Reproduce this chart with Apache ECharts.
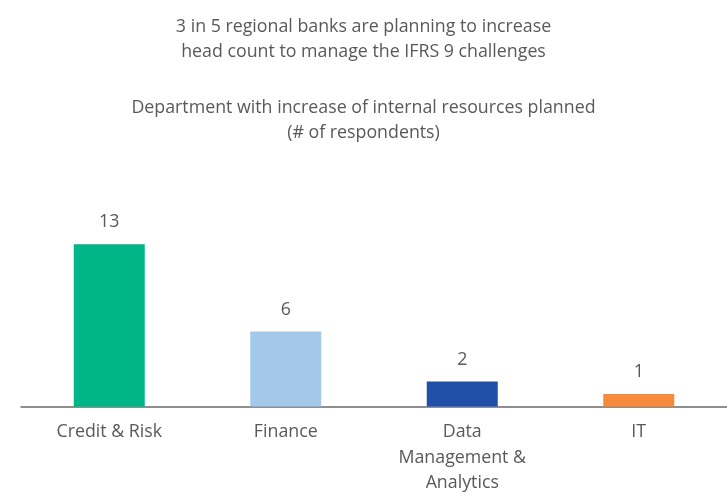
<!DOCTYPE html>
<html>
<head>
<meta charset="utf-8">
<script src="https://cdn.jsdelivr.net/npm/echarts@6/dist/echarts.min.js"></script>
<style>
  html, body { margin: 0; padding: 0; background: #fff; }
  #chart { width: 727px; height: 496px; }
</style>
</head>
<body>
<div id="chart"></div>
<script>
// data
var categories = ['Credit & Risk', 'Finance', 'Data\nManagement &\nAnalytics', 'IT'];
var counts = [13, 6, 2, 1];
var barColors = ['#00b686', '#a4c8ea', '#1f4fa6', '#f68b3d'];

var textColor = '#595959';
var fontFamily = 'Open Sans, Lato, sans-serif';
var fs = 17.8;

var chart = echarts.init(document.getElementById('chart'));

var option = {
  backgroundColor: '#fff',
  animation: false,
  title: [
    {
      text: '3 in 5 regional banks are planning to increase\nhead count to manage the IFRS 9 challenges',
      left: 'center',
      top: 9,
      textStyle: { color: textColor, fontSize: fs, fontWeight: 'normal', fontFamily: fontFamily, lineHeight: 25 }
    },
    {
      text: 'Department with increase of internal resources planned\n(# of respondents)',
      left: 'center',
      top: 90,
      textStyle: { color: textColor, fontSize: fs, fontWeight: 'normal', fontFamily: fontFamily, lineHeight: 25 }
    }
  ],
  grid: { left: 21, right: -1, top: 238, bottom: 80, containLabel: false },
  xAxis: {
    type: 'category',
    data: categories,
    axisTick: { show: false },
    axisLine: { lineStyle: { color: '#6b6b6b', width: 1.5 } },
    axisLabel: {
      color: textColor, fontSize: fs, fontFamily: fontFamily,
      margin: 13, lineHeight: 25.5, interval: 0
    }
  },
  yAxis: {
    type: 'value',
    min: 0,
    max: 13.5,
    show: false,
    splitLine: { show: false }
  },
  series: [
    {
      type: 'bar',
      barWidth: 71,
      data: counts.map(function (v, i) {
        return { value: v, itemStyle: { color: barColors[i] } };
      }),
      label: {
        show: true,
        position: 'top',
        distance: 13,
        color: textColor,
        fontSize: fs,
        fontFamily: fontFamily
      }
    }
  ]
};

chart.setOption(option);
</script>
</body>
</html>
